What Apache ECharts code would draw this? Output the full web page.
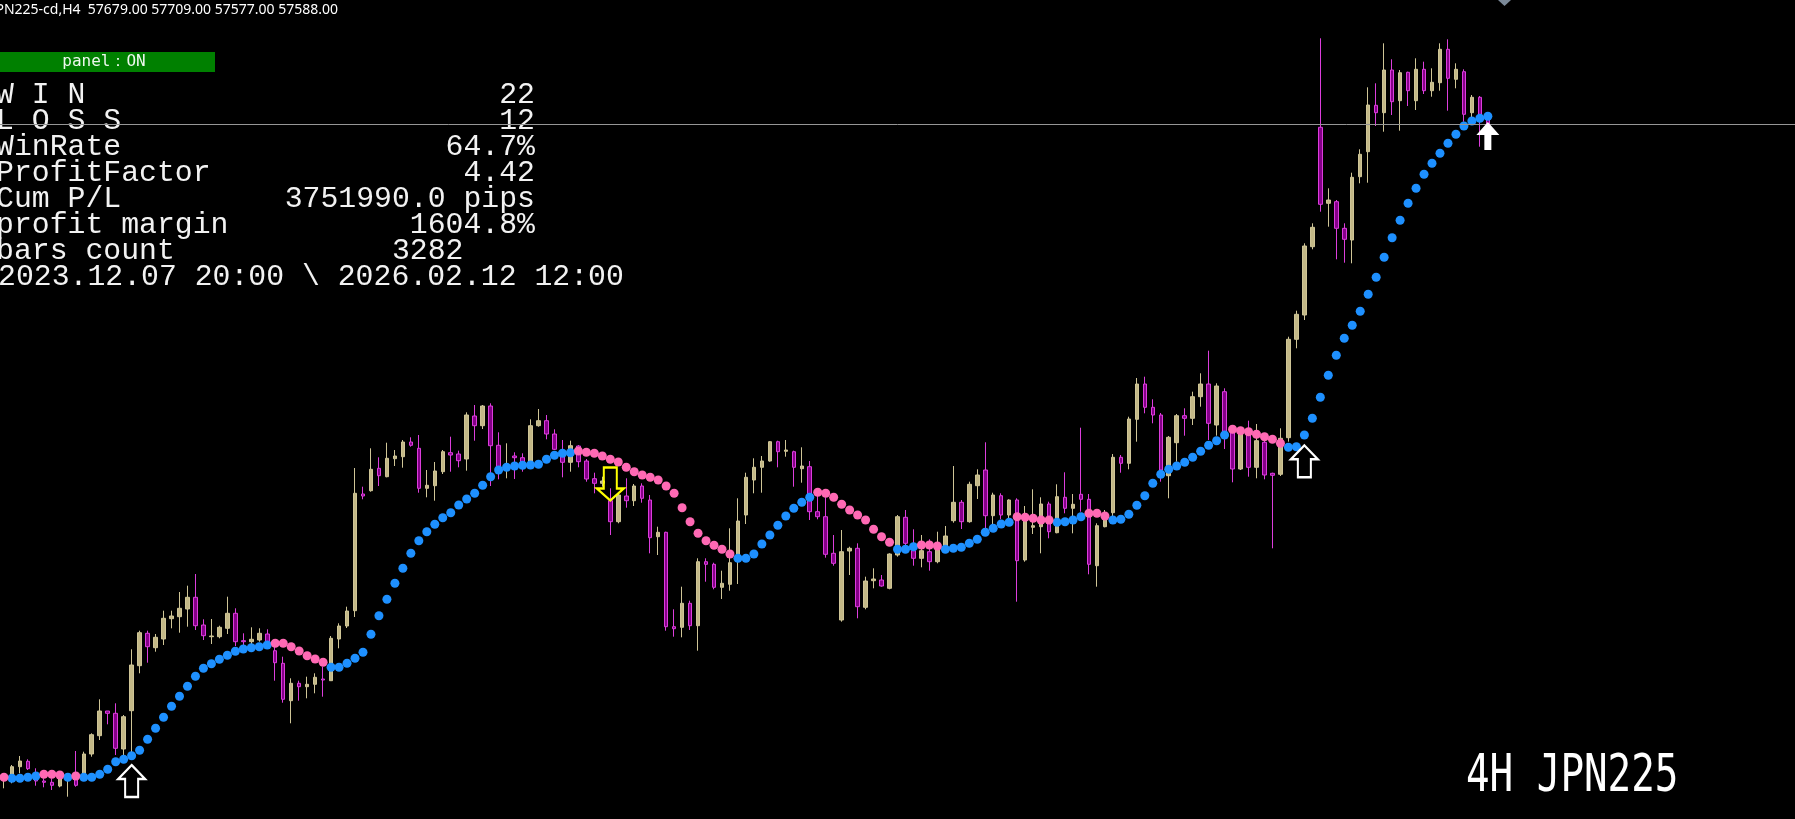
<!DOCTYPE html>
<html>
<head>
<meta charset="utf-8">
<title>JPN225-cd H4</title>
<script src="https://cdn.jsdelivr.net/npm/echarts/dist/echarts.min.js"></script>
<style>
  html, body { margin: 0; padding: 0; background: #000; }
  #chart { width: 1795px; height: 819px; }
</style>
</head>
<body>
<div id="chart"></div>
<script>
// 4時間足 OHLC（チャートから読み取り）
var barOpen = [
  51043, 51080, 51163, 51217, 51047, 51020, 51007, 50970, 51047, 51037,
  51080, 51290, 51473, 51720, 51697, 51340, 51723, 52173, 52497, 52353,
  52440, 52643, 52663, 52740, 52857, 52580, 52463, 52463, 52547, 52697,
  52423, 52413, 52430, 52490, 52323, 52197, 51823, 51997, 51963, 51987,
  52040, 52023, 52440, 52570, 52723, 53890, 53923, 54147, 54063, 54243,
  54263, 54410, 54347, 53947, 53973, 54113, 54303, 54290, 54240, 54670,
  54573, 54770, 54377, 54147, 54270, 54253, 54197, 54573, 54623, 54490,
  54290, 54207, 54370, 54220, 54043, 53997, 53823, 53613, 53870, 53823,
  53970, 53830, 53463, 53507, 52563, 52557, 52797, 52573, 53213, 53187,
  52957, 52987, 53230, 53680, 54030, 54157, 54220, 54413, 54317, 54313,
  54143, 54163, 53713, 53663, 53297, 52630, 53320, 53347, 52757, 53023,
  53030, 52947, 53280, 53657, 53323, 53247, 53313, 53213, 53363, 53623,
  53807, 53613, 53973, 54130, 53673, 53873, 53680, 53830, 53230, 53557,
  53563, 53790, 53503, 53857, 53747, 53887, 53837, 53173, 53563, 53703,
  54257, 54197, 54637, 54990, 54757, 54680, 54073, 54403, 54673, 54647,
  54863, 54990, 54580, 54913, 54503, 54140, 54480, 54157, 54407, 54097,
  54087, 54453, 55437, 55680, 56363, 57557, 56797, 56813, 56547, 56430,
  57063, 57313, 57777, 57703, 58130, 57823, 58107, 57823, 58137, 57923,
  58003, 58337, 58037, 58113, 57703, 57857, 57679
];
var barHigh = [
  51080, 51180, 51270, 51237, 51147, 51047, 51047, 51097, 51097, 51320,
  51313, 51497, 51837, 51720, 51797, 51680, 52337, 52523, 52523, 52490,
  52723, 52723, 52910, 52973, 53090, 52637, 52640, 52573, 52863, 52747,
  52497, 52557, 52547, 52537, 52397, 52263, 52047, 52023, 52063, 52097,
  52163, 52470, 52597, 52763, 54150, 53963, 54347, 54257, 54403, 54330,
  54430, 54457, 54480, 54130, 54210, 54330, 54463, 54323, 54707, 54780,
  54780, 54797, 54507, 54397, 54307, 54297, 54637, 54740, 54680, 54537,
  54430, 54423, 54380, 54240, 54103, 54063, 53947, 53897, 54047, 53990,
  53997, 53880, 53563, 53513, 52737, 52963, 52823, 53247, 53247, 53203,
  53123, 53547, 53847, 54103, 54247, 54270, 54420, 54423, 54430, 54323,
  54357, 54220, 53897, 53857, 53480, 53530, 53363, 53397, 53063, 53147,
  53080, 53297, 53680, 53730, 53537, 53480, 53437, 53513, 53570, 54170,
  53830, 54013, 54137, 54407, 53903, 53897, 53837, 53847, 53770, 53937,
  53857, 53813, 53987, 54107, 53890, 54553, 53890, 53597, 53730, 54290,
  54280, 54663, 55050, 55063, 54837, 54700, 54470, 54690, 54747, 54913,
  55097, 55323, 54997, 54947, 54530, 54530, 54623, 54590, 54430, 54103,
  54547, 55463, 55723, 56397, 56597, 58447, 56947, 56830, 56597, 57103,
  57337, 57957, 57997, 58397, 58237, 58130, 58113, 58247, 58213, 58147,
  58397, 58437, 58197, 58137, 57880, 57870, 57709
];
var barLow = [
  50947, 50997, 51097, 51130, 50973, 50957, 50930, 50957, 50863, 50963,
  51063, 51263, 51430, 51587, 51280, 51280, 51263, 52097, 52203, 52313,
  52380, 52547, 52503, 52563, 52530, 52430, 52390, 52447, 52490, 52370,
  52380, 52380, 52413, 52390, 52023, 51803, 51597, 51823, 51847, 51897,
  51863, 52023, 52347, 52550, 52660, 53837, 53913, 53970, 54057, 54170,
  54153, 54363, 53903, 53857, 53823, 54090, 54113, 54157, 54123, 54423,
  54540, 53970, 54037, 54047, 54040, 54113, 54180, 54563, 54437, 54330,
  54057, 54113, 54157, 54013, 53897, 53963, 53480, 53597, 53753, 53770,
  53803, 53297, 53280, 52523, 52463, 52457, 52530, 52323, 53013, 52937,
  52840, 52923, 52990, 53590, 53897, 53903, 54213, 54157, 54263, 53963,
  54003, 53630, 53637, 53253, 53173, 52613, 53080, 52647, 52737, 52947,
  52963, 52937, 53263, 53330, 53173, 53157, 53123, 53197, 53347, 53603,
  53540, 53603, 53840, 53547, 53590, 53637, 53613, 52813, 53213, 53490,
  53297, 53447, 53497, 53697, 53497, 53713, 53087, 52963, 53557, 53663,
  54103, 54137, 54413, 54697, 54597, 54013, 53847, 54213, 54473, 54580,
  54763, 54430, 54473, 54340, 54007, 54130, 54063, 54047, 54037, 53347,
  54070, 54413, 55347, 55630, 56337, 56713, 56563, 56237, 56203, 56197,
  56997, 57003, 57570, 57513, 57680, 57523, 57770, 57730, 57890, 57863,
  57923, 57723, 57947, 57613, 57630, 57363, 57577
];
var barClose = [
  51067, 51163, 51220, 51143, 51020, 51007, 50977, 51047, 51080, 50977,
  51290, 51483, 51720, 51697, 51347, 51663, 52180, 52503, 52363, 52457,
  52647, 52670, 52747, 52857, 52573, 52473, 52470, 52557, 52697, 52413,
  52413, 52437, 52497, 52413, 52203, 51837, 51997, 51963, 51987, 52057,
  52030, 52447, 52570, 52720, 53897, 53870, 54137, 54073, 54247, 54270,
  54410, 54377, 53947, 53977, 54120, 54313, 54280, 54223, 54680, 54573,
  54770, 54373, 54157, 54180, 54253, 54197, 54573, 54623, 54490, 54337,
  54207, 54373, 54213, 54040, 53997, 54020, 53613, 53880, 53823, 53970,
  53847, 53453, 53507, 52563, 52543, 52797, 52573, 53213, 53187, 52957,
  52997, 53203, 53620, 54057, 54157, 54220, 54413, 54313, 54330, 54157,
  54170, 53713, 53663, 53287, 53197, 53313, 53347, 52763, 53020, 53040,
  52970, 53290, 53663, 53397, 53247, 53323, 53213, 53330, 53470, 53807,
  53613, 53987, 54080, 53673, 53880, 53680, 53830, 53223, 53630, 53573,
  53790, 53513, 53863, 53747, 53787, 53837, 53187, 53573, 53663, 54257,
  54197, 54640, 54990, 54757, 54680, 54130, 54457, 54673, 54647, 54863,
  54990, 54597, 54970, 54497, 54140, 54503, 54157, 54423, 54080, 54077,
  54447, 55437, 55687, 56370, 56557, 56787, 56830, 56547, 56437, 57057,
  57287, 57780, 57703, 58130, 57813, 58103, 57923, 58137, 57923, 58007,
  58337, 58047, 58137, 57687, 57857, 57663, 57588
];

// トレンドライン（ドット）の値と方向 1=上昇(青) -1=下降(ピンク)
var dotValue = [
  51057, 51047, 51047, 51057, 51070, 51087, 51087, 51080, 51057, 51070,
  51057, 51057, 51087, 51137, 51213, 51237, 51273, 51327, 51437, 51547,
  51657, 51767, 51867, 51967, 52067, 52147, 52193, 52237, 52277, 52317,
  52340, 52353, 52363, 52380, 52397, 52397, 52363, 52320, 52273, 52240,
  52207, 52157, 52157, 52197, 52247, 52307, 52487, 52673, 52837, 52997,
  53147, 53297, 53423, 53513, 53587, 53653, 53703, 53780, 53840, 53897,
  53977, 54063, 54130, 54157, 54170, 54177, 54180, 54187, 54237, 54277,
  54297, 54303, 54320, 54307, 54297, 54270, 54237, 54210, 54157, 54113,
  54080, 54057, 54030, 53970, 53897, 53753, 53613, 53497, 53423, 53377,
  53337, 53290, 53247, 53247, 53290, 53390, 53480, 53577, 53670, 53747,
  53807, 53857, 53907, 53897, 53857, 53787, 53730, 53680, 53630, 53537,
  53463, 53407, 53337, 53337, 53363, 53380, 53380, 53370, 53337, 53347,
  53357, 53397, 53437, 53507, 53547, 53590, 53607, 53663, 53657, 53647,
  53630, 53630, 53607, 53613, 53630, 53663, 53697, 53697, 53670, 53630,
  53637, 53687, 53777, 53873, 53997, 54087, 54137, 54170, 54207, 54257,
  54317, 54377, 54423, 54480, 54537, 54523, 54513, 54487, 54463, 54437,
  54397, 54357, 54363, 54480, 54647, 54857, 55077, 55277, 55447, 55577,
  55717, 55887, 56057, 56257, 56453, 56627, 56797, 56947, 57087, 57197,
  57297, 57397, 57487, 57570, 57620, 57647, 57667
];
var dotTrend = [
  -1, 1, 1, 1, 1, -1, -1, -1, 1, -1,
  1, 1, 1, 1, 1, 1, 1, 1, 1, 1,
  1, 1, 1, 1, 1, 1, 1, 1, 1, 1,
  1, 1, 1, 1, -1, -1, -1, -1, -1, -1,
  -1, 1, 1, 1, 1, 1, 1, 1, 1, 1,
  1, 1, 1, 1, 1, 1, 1, 1, 1, 1,
  1, 1, 1, 1, 1, 1, 1, 1, 1, 1,
  1, 1, -1, -1, -1, -1, -1, -1, -1, -1,
  -1, -1, -1, -1, -1, -1, -1, -1, -1, -1,
  -1, -1, 1, 1, 1, 1, 1, 1, 1, 1,
  1, 1, -1, -1, -1, -1, -1, -1, -1, -1,
  -1, -1, 1, 1, 1, -1, -1, -1, 1, 1,
  1, 1, 1, 1, 1, 1, 1, -1, -1, -1,
  -1, -1, 1, 1, 1, 1, -1, -1, -1, 1,
  1, 1, 1, 1, 1, 1, 1, 1, 1, 1,
  1, 1, 1, 1, -1, -1, -1, -1, -1, -1,
  -1, 1, 1, 1, 1, 1, 1, 1, 1, 1,
  1, 1, 1, 1, 1, 1, 1, 1, 1, 1,
  1, 1, 1, 1, 1, 1, 1
];

// 矢印サイン
var arrowBar = [16, 76, 163, 186];
var arrowPrice = [51020, 53990, 54217, 57470];
var arrowType = ['buy', 'sell', 'buy', 'entry'];

// パネル表示
var statLabels = ['W I N', 'L O S S', 'WinRate', 'ProfitFactor', 'Cum P/L', 'profit margin', 'bars count'];
var statValues = ['22', '12', '64.7%', '4.42', '3751990.0 pips', '1604.8%', '3282    '];
var dateRange = '2023.12.07 20:00 \\ 2026.02.12 12:00';
var symbolName = 'JPN225-cd,H4';
var chartTitle = '4H JPN225';

var categories = [];
for (var i = 0; i < 225; i++) {
  categories.push(i);
}

var candles = [];
barOpen.forEach(function (o, i) {
  candles.push([o, barClose[i], barLow[i], barHigh[i]]);
});

var upDots = [];
var downDots = [];
dotValue.forEach(function (v, i) {
  if (dotTrend[i] === 1) {
    upDots.push([i, v]);
  } else {
    downDots.push([i, v]);
  }
});

var arrowUp = 'path://M13.5,0 L27,14 L20,14 L20,32 L7,32 L7,14 L0,14 Z';
var arrowDown = 'path://M7,0 L20,0 L20,21 L27,21 L13.5,33 L0,21 L7,21 Z';
var arrowSolid = 'path://M11.5,0 L23,13 L15,13 L15,28 L8,28 L8,13 L0,13 Z';

var arrows = arrowBar.map(function (b, k) {
  var t = arrowType[k];
  if (t === 'buy') {
    return { value: [b, arrowPrice[k]], symbol: arrowUp, symbolSize: [27, 32],
      itemStyle: { color: 'rgba(0,0,0,0)', borderColor: '#ffffff', borderWidth: 2.2, opacity: 1 } };
  }
  if (t === 'sell') {
    return { value: [b, arrowPrice[k]], symbol: arrowDown, symbolSize: [27, 33],
      itemStyle: { color: 'rgba(0,0,0,0)', borderColor: '#ffff00', borderWidth: 2.2, opacity: 1 } };
  }
  return { value: [b, arrowPrice[k]], symbol: arrowSolid, symbolSize: [23, 28],
    itemStyle: { color: '#ffffff', borderWidth: 0, opacity: 1 } };
});

var last = barOpen.length - 1;
var header = symbolName + '  ' + barOpen[last].toFixed(2) + ' ' + barHigh[last].toFixed(2) + ' ' +
  barLow[last].toFixed(2) + ' ' + barClose[last].toFixed(2);

// テキスト類
var graphics = [
  { type: 'text', x: 338, y: 10, style: { text: header, fill: '#ffffff', font: '14px "Noto Sans"', textAlign: 'right', textVerticalAlign: 'middle' } },
  { type: 'rect', shape: { x: 0, y: 52, width: 215, height: 20 }, style: { fill: '#008000' } },
  { type: 'text', x: 104, y: 62, style: { text: 'panel：ON', fill: '#eef8ee', font: '16px "DejaVu Sans Mono"', textAlign: 'center', textVerticalAlign: 'middle' } },
  { type: 'polygon', shape: { points: [[1498, 0], [1511, 0], [1504.5, 6]] }, style: { fill: '#7b8998' } },
  { type: 'text', x: 1466, y: 778, scaleX: 0.98, scaleY: 1.28, style: { text: chartTitle, fill: '#ffffff', font: '40px "DejaVu Sans Mono"', textAlign: 'left', textVerticalAlign: 'middle' } }
];
statLabels.forEach(function (lab, k) {
  var y = 95 + 26 * k;
  graphics.push({ type: 'text', x: -4, y: y, style: { text: lab, fill: '#f2f2f2', font: '29.8px "Liberation Mono"', textAlign: 'left', textVerticalAlign: 'middle' } });
  graphics.push({ type: 'text', x: 535, y: y, style: { text: statValues[k], fill: '#f2f2f2', font: '29.8px "Liberation Mono"', textAlign: 'right', textVerticalAlign: 'middle' } });
});
graphics.push({ type: 'text', x: -2, y: 95 + 26 * 7, style: { text: dateRange, fill: '#f2f2f2', font: '29.8px "Liberation Mono"', textAlign: 'left', textVerticalAlign: 'middle' } });

var chartDom = document.getElementById('chart');
var myChart = echarts.init(chartDom);
var option = {
  backgroundColor: '#000000',
  animation: false,
  grid: { left: -2, top: 0, width: 1800, height: 819 },
  xAxis: {
    type: 'category',
    data: categories,
    show: false,
    boundaryGap: true
  },
  yAxis: {
    type: 'value',
    min: 50640,
    max: 58830,
    show: false,
    splitLine: { show: false }
  },
  graphic: graphics,
  series: [
    {
      type: 'candlestick',
      data: candles,
      barWidth: 4,
      z: 2,
      silent: true,
      itemStyle: {
        color: '#c3b887',
        color0: '#86008a',
        borderColor: '#cfc597',
        borderColor0: '#dc3edc',
        borderWidth: 1
      },
      markLine: {
        silent: true,
        symbol: ['none', 'none'],
        label: { show: false },
        lineStyle: { color: '#969696', width: 1, type: 'solid', opacity: 1 },
        data: [{ yAxis: barClose[last] }]
      }
    },
    {
      type: 'scatter',
      data: upDots,
      symbolSize: 9,
      z: 3,
      silent: true,
      itemStyle: { color: '#1e90ff', opacity: 1 }
    },
    {
      type: 'scatter',
      data: downDots,
      symbolSize: 9,
      z: 3,
      silent: true,
      itemStyle: { color: '#ff69b4', opacity: 1 }
    },
    {
      type: 'scatter',
      data: arrows,
      z: 5,
      silent: true,
      itemStyle: { opacity: 1 }
    }
  ]
};
option && myChart.setOption(option);
</script>
</body>
</html>
